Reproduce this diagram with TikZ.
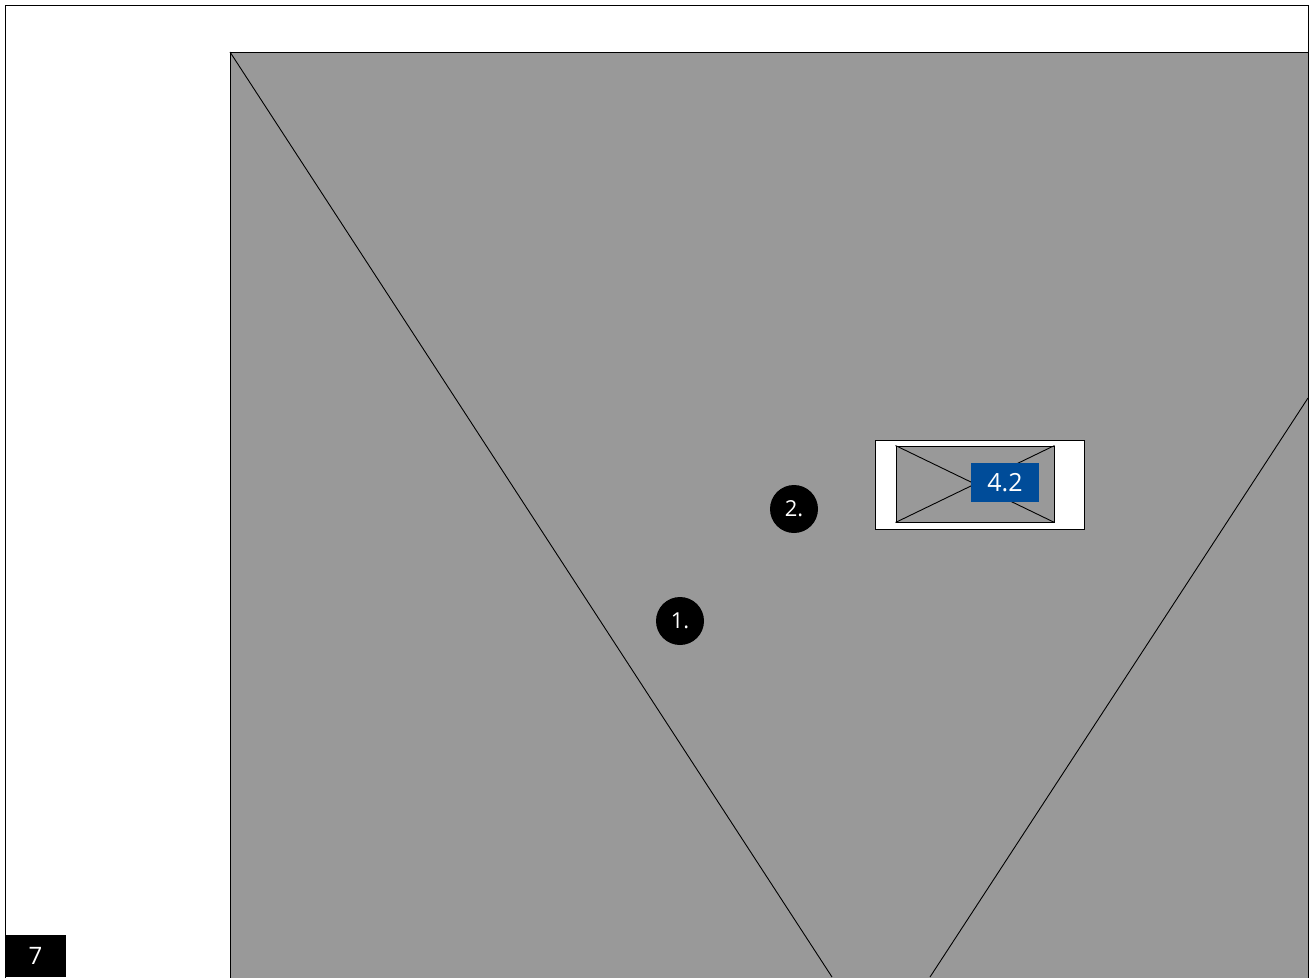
\documentclass[tikz,border=0pt]{standalone}
\usepackage{fontspec}
\setmainfont{Open Sans}
\definecolor{panelgray}{HTML}{999999}
\definecolor{tagblue}{HTML}{004C99}
\tikzset{
  edge/.style={draw=black, line width=0.9pt},
  badge/.style={circle, fill=black, minimum size=48pt, inner sep=0pt, text=white, font=\fontsize{22}{22}\selectfont},
  tag/.style={fill=tagblue, text=white, minimum width=68pt, minimum height=39pt, inner sep=0pt, font=\fontsize{25}{25}\selectfont},
  pagetag/.style={fill=black, text=white, minimum width=61pt, minimum height=42pt, inner sep=0pt, font=\fontsize{24}{24}\selectfont}
}
\begin{document}
\begin{tikzpicture}[x=1pt,y=-1pt]
\useasboundingbox (0,0) rectangle (1313,977);
\fill[white] (0,0) rectangle (1313,977);
% outer frame
\draw[edge] (5,990) -- (5,5) -- (1308,5) -- (1308,990);
% gray panel
\draw[edge, fill=panelgray] (230,990) -- (230,52) -- (1308,52) -- (1308,990);
% diagonal lines
\coordinate (d1a) at (230,52);
\coordinate (d1b) at (832,977);
\coordinate (d2a) at (1308,398);
\coordinate (d2b) at (930,977);
\draw[edge] (d1a) -- (d1b);
\draw[edge] (d2a) -- (d2b);
% image placeholder
\node[draw=black, line width=0.9pt, fill=white, minimum width=209pt, minimum height=89pt, inner sep=0pt] (frame) at (979.5,484.5) {};
\node[draw=black, line width=0.9pt, fill=panelgray, minimum width=158pt, minimum height=76pt, inner sep=0pt] (ph) at (975,484) {};
\draw[edge] (ph.north west) -- (ph.south east);
\draw[edge] (ph.south west) -- (ph.north east);
\node[tag] (t42) at (1005,482.5) {\raisebox{-2pt}{4.2}};
% badges
\node[badge] (b2) at (794,509) {\raisebox{-1pt}{2.}};
\node[badge] (b1) at (680,621) {\raisebox{-1pt}{1.}};
% page number
\node[pagetag] (pg) at (35.5,956) {\raisebox{-3pt}{7}};
\end{tikzpicture}
\end{document}
